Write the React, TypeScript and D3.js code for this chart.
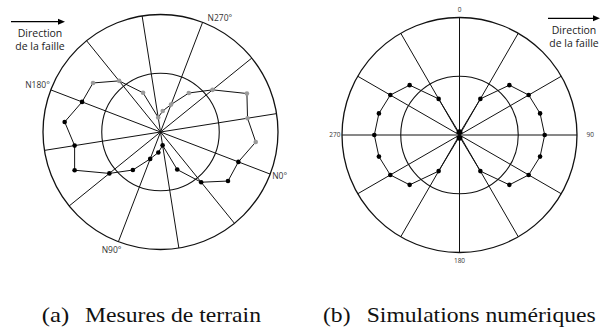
import React from "react";
import * as d3 from "d3";

// Azimuth categories (degrees), one every 15°
const azimuths = d3.range(0, 360, 15);

// (a) Field measurements: normalised radius per azimuth (N0° .. N345°)
const fieldValues = [
  0.71, 0.71, 0.55, 0.35, 0.115, 0.175, 0.245, 0.4, 0.56, 0.8, 0.74, 0.82,
  0.715, 0.71, 0.56, 0.365, 0.125, 0.18, 0.25, 0.41, 0.57, 0.805, 0.75, 0.815,
];
// First 13 measurements drawn black, the rest grey
const fieldBlackCount = 13;

// (b) Numerical simulations: normalised radius per azimuth (0 .. 345)
const simValues = [
  0.03, 0.025, 0.355, 0.6, 0.68, 0.71, 0.725, 0.71, 0.68, 0.6, 0.355, 0.025,
  0.03, 0.025, 0.355, 0.6, 0.68, 0.71, 0.725, 0.71, 0.68, 0.6, 0.355, 0.025,
];

// Grid
const spokeAngles = d3.range(0, 360, 30);
const ringValues = [0.5, 1];

const fieldLabels = [
  { az: 0, text: "N0°", dx: 2, dy: 5, anchor: "start" },
  { az: 90, text: "N90°", dx: 3, dy: 11, anchor: "end" },
  { az: 180, text: "N180°", dx: -1, dy: -2, anchor: "end" },
  { az: 270, text: "N270°", dx: 5, dy: -1, anchor: "start" },
];
const simLabels = [
  { az: 0, text: "0", dx: 0, dy: -6, anchor: "middle" },
  { az: 90, text: "90", dx: 9.5, dy: 2.3, anchor: "start" },
  { az: 180, text: "180", dx: 0, dy: 10.6, anchor: "middle" },
  { az: 270, text: "270", dx: -1.5, dy: 2.3, anchor: "end" },
];

const SANS = "'Open Sans', 'Noto Sans', sans-serif";
const SERIF = "'Liberation Serif', 'DejaVu Serif', serif";

type Label = { az: number; text: string; dx: number; dy: number; anchor: string };

function Rose(props: {
  cx: number;
  cy: number;
  radius: number;
  rotation: number;
  values: number[];
  blackCount: number;
  labels: Label[];
  labelSize: number;
}) {
  const { cx, cy, radius, rotation, values, blackCount, labels, labelSize } = props;
  const r = d3.scaleLinear().domain([0, 1]).range([0, radius]);
  const ang = d3
    .scaleLinear()
    .domain([0, 360])
    .range([(rotation * Math.PI) / 180, ((rotation + 360) * Math.PI) / 180]);
  const pt = (az: number, v: number): [number, number] => {
    const a = ang(az);
    return [r(v) * Math.sin(a), -r(v) * Math.cos(a)];
  };
  const outline = d3
    .lineRadial<number>()
    .angle((_, i) => ang(azimuths[i]))
    .radius((v) => r(v))
    .curve(d3.curveLinearClosed);

  return (
    <g transform={`translate(${cx},${cy})`}>
      {spokeAngles.map((az) => {
        const [x, y] = pt(az, 1);
        return <line key={az} x1={0} y1={0} x2={x} y2={y} stroke="#111" strokeWidth={1} />;
      })}
      {ringValues.map((v) => (
        <circle key={v} r={r(v)} fill="none" stroke="#111" strokeWidth={v === 1 ? 1.3 : 1.1} />
      ))}
      <path d={outline(values) || ""} fill="none" stroke="#111" strokeWidth={1} />
      {values.map((v, i) => {
        const [x, y] = pt(azimuths[i], v);
        return (
          <circle key={i} cx={x} cy={y} r={2.3} fill={i < blackCount ? "#000" : "#9a9a9a"} />
        );
      })}
      {labels.map((l) => {
        const [x, y] = pt(l.az, 1);
        return (
          <text
            key={l.text}
            x={x + l.dx}
            y={y + l.dy}
            textAnchor={l.anchor as any}
            fontFamily={SANS}
            fontSize={labelSize}
            fill="#333"
          >
            {l.text}
          </text>
        );
      })}
    </g>
  );
}

function FaultArrow(props: { x1: number; x2: number; y: number; textX: number }) {
  const { x1, x2, y, textX } = props;
  return (
    <g>
      <line x1={x1} y1={y} x2={x2 - 6} y2={y} stroke="#000" strokeWidth={1.3} />
      <path d={`M${x2},${y} L${x2 - 7},${y - 3} L${x2 - 7},${y + 3} Z`} fill="#000" />
      <text x={textX} y={y + 15.5} textAnchor="middle" fontFamily={SANS} fontSize={10.5} fill="#222">
        Direction
      </text>
      <text x={textX} y={y + 28.5} textAnchor="middle" fontFamily={SANS} fontSize={10.5} fill="#222">
        de la faille
      </text>
    </g>
  );
}

export default function App() {
  return (
    <svg
      width={600}
      height={334}
      viewBox="0 0 600 334"
      style={{ position: "absolute", left: 0, top: 0, background: "#fff" }}
    >
      <rect width={600} height={334} fill="#fff" />
      <Rose
        cx={160.5}
        cy={132}
        radius={117.5}
        rotation={111}
        values={fieldValues}
        blackCount={fieldBlackCount}
        labels={fieldLabels}
        labelSize={8.5}
      />
      <Rose
        cx={459.5}
        cy={135}
        radius={117.5}
        rotation={0}
        values={simValues}
        blackCount={simValues.length}
        labels={simLabels}
        labelSize={6.5}
      />
      <FaultArrow x1={11} x2={65} y={21.7} textX={40} />
      <FaultArrow x1={548} x2={600} y={18.3} textX={574} />

      <text x={41.7} y={322} fontFamily={SERIF} fontSize={21.5} textLength={27.5} lengthAdjust="spacingAndGlyphs" fill="#111">
        (a)
      </text>
      <text x={85} y={322} fontFamily={SERIF} fontSize={21.5} textLength={176} lengthAdjust="spacingAndGlyphs" fill="#111">
        Mesures de terrain
      </text>
      <text x={323} y={322} fontFamily={SERIF} fontSize={21.5} textLength={27.5} lengthAdjust="spacingAndGlyphs" fill="#111">
        (b)
      </text>
      <text x={366.7} y={322} fontFamily={SERIF} fontSize={21.5} textLength={229} lengthAdjust="spacingAndGlyphs" fill="#111">
        Simulations numériques
      </text>
    </svg>
  );
}
